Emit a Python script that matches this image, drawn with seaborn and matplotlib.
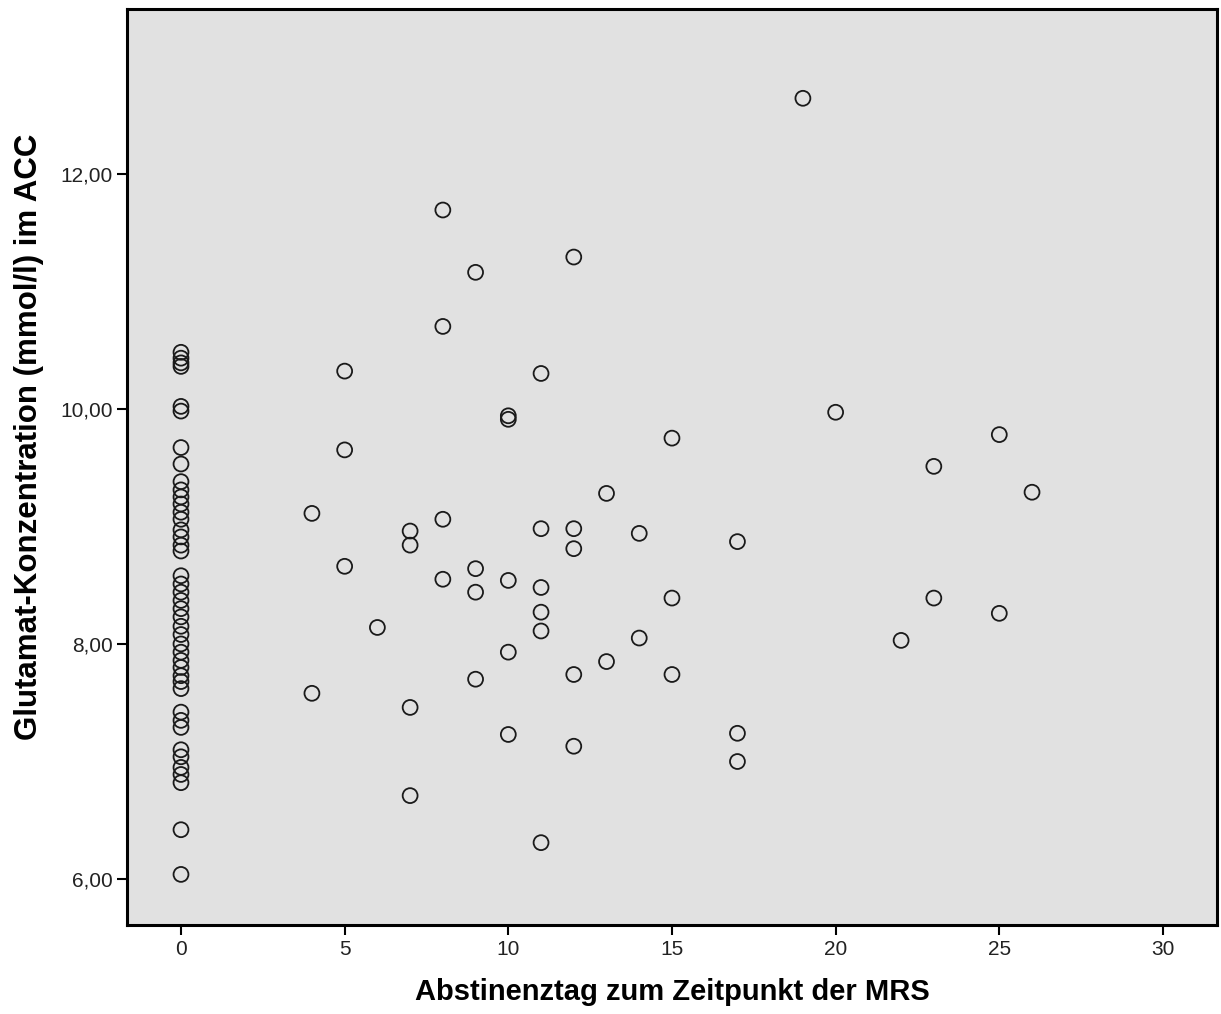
import numpy as np
import pandas as pd
import matplotlib
matplotlib.use("Agg")
import matplotlib.pyplot as plt
import seaborn as sns
from matplotlib.ticker import FuncFormatter

# Abstinenztag 0 (viele Werte uebereinander)
glu_day0 = [10.48, 10.43, 10.39, 10.36, 10.02, 9.98, 9.67, 9.53, 9.38, 9.31,
            9.25, 9.19, 9.12, 9.06, 8.97, 8.91, 8.84, 8.79, 8.58, 8.51,
            8.44, 8.37, 8.30, 8.23, 8.15, 8.08, 8.00, 7.93, 7.86, 7.80,
            7.73, 7.68, 7.62, 7.42, 7.35, 7.29, 7.10, 7.04, 6.95, 6.89,
            6.82, 6.42, 6.04]

# restliche Probanden
days_rest = [4, 4, 5, 5, 5, 6, 7, 7, 7, 7,
             8, 8, 8, 8, 9, 9, 9, 9, 10, 10,
             10, 10, 10, 11, 11, 11, 11, 11, 11, 12,
             12, 12, 12, 12, 13, 13, 14, 14, 15, 15,
             15, 17, 17, 17, 19, 20, 22, 23, 23, 25,
             25, 26]
glu_rest = [9.11, 7.58, 10.32, 9.65, 8.66, 8.14, 8.96, 8.84, 7.46, 6.71,
            11.69, 10.70, 9.06, 8.55, 11.16, 8.64, 8.44, 7.70, 9.94, 9.91,
            8.54, 7.93, 7.23, 10.30, 8.98, 8.48, 8.27, 8.11, 6.31, 11.29,
            8.98, 8.81, 7.74, 7.13, 9.28, 7.85, 8.94, 8.05, 9.75, 8.39,
            7.74, 8.87, 7.24, 7.00, 12.64, 9.97, 8.03, 9.51, 8.39, 9.78,
            8.26, 9.29]

df = pd.DataFrame({
    "tag": [0] * len(glu_day0) + days_rest,
    "glu": glu_day0 + glu_rest,
})

sns.set_style("white", {"axes.facecolor": "#e1e1e1"})
plt.rcParams["font.family"] = ["Liberation Sans", "DejaVu Sans"]

fig = plt.figure(figsize=(12.21, 10.14), dpi=100)
ax = fig.add_axes([0.104, 0.0878, 0.8927, 0.9034])

sns.scatterplot(data=df, x="tag", y="glu", ax=ax, s=115,
                facecolor="none", edgecolor="#1a1a1a", linewidth=1.3)

ax.set_xlim(-1.65, 31.65)
ax.set_ylim(5.61, 13.40)
ax.set_xticks([0, 5, 10, 15, 20, 25, 30])
ax.set_yticks([6, 8, 10, 12])
ax.yaxis.set_major_formatter(FuncFormatter(lambda v, p: f"{v:.2f}".replace(".", ",")))

for sp in ax.spines.values():
    sp.set_visible(True)
    sp.set_color("black")
    sp.set_linewidth(2.2)

ax.tick_params(axis="both", direction="out", length=7, width=1.5,
               colors="black", labelsize=15, left=True, bottom=True)
for t in ax.get_xticklabels() + ax.get_yticklabels():
    t.set_color("#222222")

ax.set_xlabel("Abstinenztag zum Zeitpunkt der MRS", fontsize=21,
              fontweight="bold", labelpad=14, color="black")
ax.set_ylabel("Glutamat-Konzentration (mmol/l) im ACC", fontsize=22.5,
              fontweight="bold", color="black")
ax.yaxis.set_label_coords(-0.076, 0.533)

fig.savefig("out.png", dpi=100)
